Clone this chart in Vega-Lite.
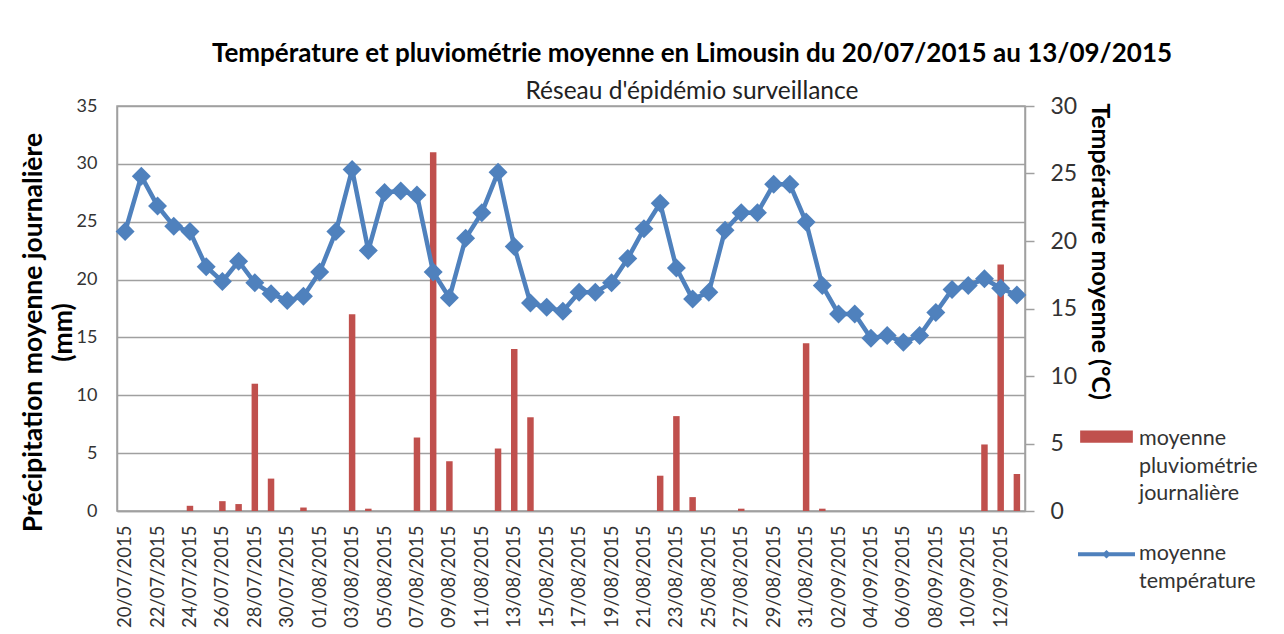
{
  "$schema": "https://vega.github.io/schema/vega-lite/v6.json",
  "width": 908,
  "height": 405,
  "autosize": "none",
  "padding": {"left": 117, "top": 106, "right": 259, "bottom": 123},
  "background": "white",
  "config": {
    "font": "Lato",
    "view": {"stroke": "#a0a0a0", "strokeWidth": 1.5}
  },
  "title": {
    "text": "Température et pluviométrie moyenne en Limousin du 20/07/2015 au 13/09/2015",
    "subtitle": "Réseau d'épidémio surveillance",
    "font": "Lato",
    "fontSize": 26,
    "fontWeight": "bold",
    "color": "#000000",
    "subtitleFont": "Lato",
    "subtitleFontSize": 24.5,
    "subtitleColor": "#222222",
    "anchor": "middle",
    "dx": 121,
    "dy": 6,
    "offset": -2,
    "subtitlePadding": 13
  },
  "data": {
    "values": [
      {"date": "20/07/2015", "temp": 20.7, "precip": 0},
      {"date": "21/07/2015", "temp": 24.8, "precip": 0},
      {"date": "22/07/2015", "temp": 22.6, "precip": 0},
      {"date": "23/07/2015", "temp": 21.1, "precip": 0},
      {"date": "24/07/2015", "temp": 20.7, "precip": 0.45},
      {"date": "25/07/2015", "temp": 18.1, "precip": 0},
      {"date": "26/07/2015", "temp": 17.0, "precip": 0.85},
      {"date": "27/07/2015", "temp": 18.5, "precip": 0.6},
      {"date": "28/07/2015", "temp": 16.9, "precip": 11.0},
      {"date": "29/07/2015", "temp": 16.1, "precip": 2.8},
      {"date": "30/07/2015", "temp": 15.6, "precip": 0},
      {"date": "31/07/2015", "temp": 15.9, "precip": 0.3},
      {"date": "01/08/2015", "temp": 17.7, "precip": 0},
      {"date": "02/08/2015", "temp": 20.7, "precip": 0},
      {"date": "03/08/2015", "temp": 25.3, "precip": 17.0},
      {"date": "04/08/2015", "temp": 19.3, "precip": 0.2},
      {"date": "05/08/2015", "temp": 23.6, "precip": 0},
      {"date": "06/08/2015", "temp": 23.7, "precip": 0},
      {"date": "07/08/2015", "temp": 23.4, "precip": 6.35},
      {"date": "08/08/2015", "temp": 17.7, "precip": 31.0},
      {"date": "09/08/2015", "temp": 15.8, "precip": 4.3},
      {"date": "10/08/2015", "temp": 20.2, "precip": 0},
      {"date": "11/08/2015", "temp": 22.1, "precip": 0},
      {"date": "12/08/2015", "temp": 25.1, "precip": 5.4},
      {"date": "13/08/2015", "temp": 19.6, "precip": 14.0},
      {"date": "14/08/2015", "temp": 15.4, "precip": 8.1},
      {"date": "15/08/2015", "temp": 15.1, "precip": 0},
      {"date": "16/08/2015", "temp": 14.8, "precip": 0},
      {"date": "17/08/2015", "temp": 16.2, "precip": 0},
      {"date": "18/08/2015", "temp": 16.2, "precip": 0},
      {"date": "19/08/2015", "temp": 16.9, "precip": 0},
      {"date": "20/08/2015", "temp": 18.7, "precip": 0},
      {"date": "21/08/2015", "temp": 20.9, "precip": 0},
      {"date": "22/08/2015", "temp": 22.8, "precip": 3.05},
      {"date": "23/08/2015", "temp": 18.0, "precip": 8.2},
      {"date": "24/08/2015", "temp": 15.7, "precip": 1.2},
      {"date": "25/08/2015", "temp": 16.2, "precip": 0},
      {"date": "26/08/2015", "temp": 20.8, "precip": 0},
      {"date": "27/08/2015", "temp": 22.1, "precip": 0.2},
      {"date": "28/08/2015", "temp": 22.1, "precip": 0},
      {"date": "29/08/2015", "temp": 24.2, "precip": 0},
      {"date": "30/08/2015", "temp": 24.2, "precip": 0},
      {"date": "31/08/2015", "temp": 21.4, "precip": 14.5},
      {"date": "01/09/2015", "temp": 16.7, "precip": 0.2},
      {"date": "02/09/2015", "temp": 14.6, "precip": 0},
      {"date": "03/09/2015", "temp": 14.6, "precip": 0},
      {"date": "04/09/2015", "temp": 12.8, "precip": 0},
      {"date": "05/09/2015", "temp": 13.0, "precip": 0},
      {"date": "06/09/2015", "temp": 12.5, "precip": 0},
      {"date": "07/09/2015", "temp": 13.0, "precip": 0},
      {"date": "08/09/2015", "temp": 14.7, "precip": 0},
      {"date": "09/09/2015", "temp": 16.4, "precip": 0},
      {"date": "10/09/2015", "temp": 16.7, "precip": 0},
      {"date": "11/09/2015", "temp": 17.2, "precip": 5.75},
      {"date": "12/09/2015", "temp": 16.5, "precip": 21.3},
      {"date": "13/09/2015", "temp": 16.0, "precip": 3.2}
    ]
  },
  "encoding": {
    "x": {
      "field": "date",
      "type": "ordinal",
      "sort": null,
      "scale": {"paddingInner": 0, "paddingOuter": 0},
      "axis": {
        "title": null,
        "values": ["20/07/2015", "22/07/2015", "24/07/2015", "26/07/2015", "28/07/2015", "30/07/2015", "01/08/2015", "03/08/2015", "05/08/2015", "07/08/2015", "09/08/2015", "11/08/2015", "13/08/2015", "15/08/2015", "17/08/2015", "19/08/2015", "21/08/2015", "23/08/2015", "25/08/2015", "27/08/2015", "29/08/2015", "31/08/2015", "02/09/2015", "04/09/2015", "06/09/2015", "08/09/2015", "10/09/2015", "12/09/2015"],
        "labelAngle": 270,
        "labelAlign": "right",
        "labelBaseline": "middle",
        "labelFontSize": 18.5,
        "labelColor": "#333333",
        "labelPadding": 14,
        "labelOverlap": false,
        "ticks": false,
        "domainColor": "#a0a0a0",
        "domainWidth": 1.5,
        "grid": false
      }
    }
  },
  "layer": [
    {
      "mark": {"type": "bar", "width": {"band": 0.4}, "color": "#C0504D"},
      "encoding": {
        "y": {
          "field": "precip",
          "type": "quantitative",
          "scale": {"domain": [0, 35]},
          "axis": {
            "orient": "left",
            "values": [0, 5, 10, 15, 20, 25, 30, 35],
            "title": ["Précipitation moyenne journalière", "(mm)"],
            "titleFontSize": 26.5,
            "titleFontWeight": "bold",
            "titleColor": "#000000",
            "titleLineHeight": 30,
            "titleBaseline": "middle",
            "titleX": -84,
            "titleY": 226,
            "grid": true,
            "gridColor": "#a0a0a0",
            "gridWidth": 1.5,
            "domainColor": "#a0a0a0",
            "domainWidth": 1.5,
            "ticks": false,
            "labelFontSize": 18,
            "labelColor": "#333333",
            "labelPadding": 20
          }
        },
        "fill": {
          "datum": "moyenne pluviométrie journalière",
          "type": "nominal",
          "scale": {"range": ["#C0504D"]},
          "legend": {
            "orient": "none",
            "legendX": 963,
            "legendY": 312.6,
            "title": null,
            "symbolType": "M-1,-0.55H1V-0.09H-1Z",
            "symbolSize": 2777,
            "symbolStrokeWidth": 0,
            "labelFontSize": 21.5,
            "labelColor": "#333333",
            "labelBaseline": "alphabetic",
            "labelOffset": 6,
            "labelLimit": 200,
            "labelExpr": "split(datum.label, ' ')",
            "encode": {"labels": {"update": {"lineHeight": {"value": 27.5}}}}
          }
        }
      }
    },
    {
      "encoding": {
        "y": {
          "field": "temp",
          "type": "quantitative",
          "scale": {"domain": [0, 30]},
          "axis": {
            "orient": "right",
            "values": [0, 5, 10, 15, 20, 25, 30],
            "title": "Température moyenne (°C)",
            "titleFontSize": 25,
            "titleFontWeight": "bold",
            "titleColor": "#000000",
            "titleAngle": 90,
            "titleBaseline": "middle",
            "titleX": 74,
            "titleY": 145,
            "grid": false,
            "domainColor": "#a0a0a0",
            "domainWidth": 1.5,
            "ticks": true,
            "tickSize": 9,
            "tickColor": "#a0a0a0",
            "tickWidth": 1.5,
            "labelFontSize": 23,
            "labelColor": "#333333",
            "labelPadding": 16
          }
        }
      },
      "layer": [
        {
          "mark": {"type": "line", "strokeWidth": 4.5, "color": "#4F81BD"},
          "encoding": {
            "stroke": {
              "datum": "moyenne température",
              "type": "nominal",
              "scale": {"range": ["#4F81BD"]},
              "legend": {
                "orient": "none",
                "legendX": 961,
                "legendY": 425.5,
                "title": null,
                "symbolType": "M-1,-0.27H1V-0.13H-1Z M0,-0.35L0.16,-0.2L0,-0.05L-0.16,-0.2Z",
                "symbolSize": 3249,
                "symbolStrokeWidth": 0,
                "symbolFillColor": "#4F81BD",
                "labelFontSize": 21.5,
                "labelColor": "#333333",
                "labelBaseline": "alphabetic",
                "labelOffset": 4,
                "labelLimit": 200,
                "labelExpr": "split(datum.label, ' ')",
                "encode": {
                  "symbols": {"update": {"fill": {"value": "#4F81BD"}, "strokeWidth": {"value": 0}}},
                  "labels": {"update": {"lineHeight": {"value": 27.5}}}
                }
              }
            }
          }
        },
        {
          "mark": {"type": "point", "shape": "diamond", "filled": true, "size": 360, "color": "#4F81BD", "opacity": 1}
        }
      ]
    }
  ],
  "resolve": {"scale": {"y": "independent"}}
}
